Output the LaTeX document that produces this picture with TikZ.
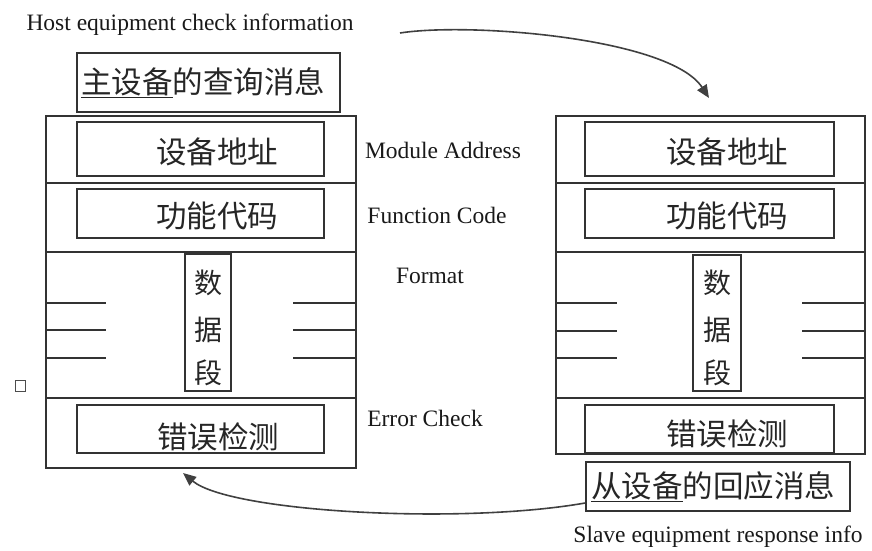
\documentclass[tikz,border=0pt]{standalone}
\usepackage{fontspec}
\setmainfont{Liberation Serif}
\newfontfamily\cjk{Noto Sans CJK SC}
\usetikzlibrary{arrows.meta}
\tikzset{
  ln/.style={draw=black!80, line width=1.8pt},
  frame/.style={ln, inner sep=0pt, anchor=north west},
  ibox/.style={ln, inner sep=0pt},
  cn/.style={font=\cjk\fontsize{30.5}{32}\selectfont, text=black!85, inner sep=0pt},
  cnv/.style={font=\cjk\fontsize{28}{30}\selectfont, text=black!85, inner sep=0pt},
  en/.style={font=\fontsize{23.5}{26}\selectfont, text=black!90, inner sep=0pt},
  conn/.style={draw=black!75, line width=1.6pt, -{Triangle[length=13pt,width=11pt]}},
}
\begin{document}
\begin{tikzpicture}[x=1pt,y=-1pt]
\useasboundingbox (0,0) rectangle (872,551);
% ---------- left frame ----------
\node[frame, minimum width=310, minimum height=352] (frameL) at (45,115) {};
\draw[ln] (45,183) -- (355,183);
\draw[ln] (45,252) -- (355,252);
\draw[ln] (45,398) -- (355,398);
\node[ibox, minimum width=263, minimum height=59] (hostbox) at (208.5,82.5) {};
\node[cn] (hosttxt) at (203,83) {\underline{主设备}的查询消息};
\node[ibox, minimum width=247, minimum height=54] (addrL) at (200.5,149) {};
\node[cn] (addrLt) at (217,152) {设备地址};
\node[ibox, minimum width=247, minimum height=49] (funcL) at (200.5,213.5) {};
\node[cn] (funcLt) at (217,216) {功能代码};
\node[ibox, minimum width=46, minimum height=137] (dataL) at (208,322.5) {};
\node[cnv] (dL1) at (208,283) {数};
\node[cnv] (dL2) at (208,330) {据};
\node[cnv] (dL3) at (208,373) {段};
\foreach \yy/\nm in {303/a,330/b,358/c}{
  \coordinate (lLa\nm) at (45,\yy); \coordinate (lLb\nm) at (106,\yy);
  \coordinate (rLa\nm) at (293,\yy); \coordinate (rLb\nm) at (355,\yy);
  \draw[ln] (lLa\nm) -- (lLb\nm);
  \draw[ln] (rLa\nm) -- (rLb\nm);
}
\node[ibox, minimum width=247, minimum height=48] (errL) at (200.5,429) {};
\node[cn] (errLt) at (218,437) {错误检测};
\node[draw=black!70, line width=0.8pt, minimum width=10, minimum height=11, inner sep=0pt] (sq) at (20,386) {};
% ---------- right frame ----------
\node[frame, minimum width=309, minimum height=338] (frameR) at (555,115) {};
\draw[ln] (555,183) -- (864,183);
\draw[ln] (555,252) -- (864,252);
\draw[ln] (555,398) -- (864,398);
\node[ibox, minimum width=249, minimum height=54] (addrR) at (709.5,149) {};
\node[cn] (addrRt) at (727,152) {设备地址};
\node[ibox, minimum width=249, minimum height=49] (funcR) at (709.5,213.5) {};
\node[cn] (funcRt) at (727,216) {功能代码};
\node[ibox, minimum width=48, minimum height=136] (dataR) at (717,323) {};
\node[cnv] (dR1) at (717,283) {数};
\node[cnv] (dR2) at (717,330) {据};
\node[cnv] (dR3) at (717,373) {段};
\foreach \yy/\nm in {303/a,331/b,358/c}{
  \coordinate (lRa\nm) at (555,\yy); \coordinate (lRb\nm) at (617,\yy);
  \coordinate (rRa\nm) at (802,\yy); \coordinate (rRb\nm) at (864,\yy);
  \draw[ln] (lRa\nm) -- (lRb\nm);
  \draw[ln] (rRa\nm) -- (rRb\nm);
}
\node[ibox, minimum width=249, minimum height=48] (errR) at (709.5,429) {};
\node[cn] (errRt) at (727,434) {错误检测};
\node[ibox, minimum width=264, minimum height=49] (slavebox) at (718,486.5) {};
\node[cn] (slavetxt) at (713,487) {\underline{从设备}的回应消息};
% ---------- labels ----------
\node[en] (hostlbl) at (190,25) {Host equipment check information};
\node[en] (modlbl) at (443,150) {Module Address};
\node[en] (funlbl) at (437,215) {Function Code};
\node[en] (fmtlbl) at (430,276) {Format};
\node[en] (errlbl) at (425,418) {Error Check};
\node[en] (slavelbl) at (718,537) {Slave equipment response info};
% ---------- connectors ----------
\coordinate (a1s) at (400,33);
\coordinate (a1e) at (709,98);
\draw[conn] (a1s) .. controls (470,22) and (670,38) .. (a1e);
\coordinate (a2e) at (183,473);
\draw[conn] (slavebox.west |- 0,503) .. controls (460,525) and (230,512) .. (a2e);
\end{tikzpicture}
\end{document}
